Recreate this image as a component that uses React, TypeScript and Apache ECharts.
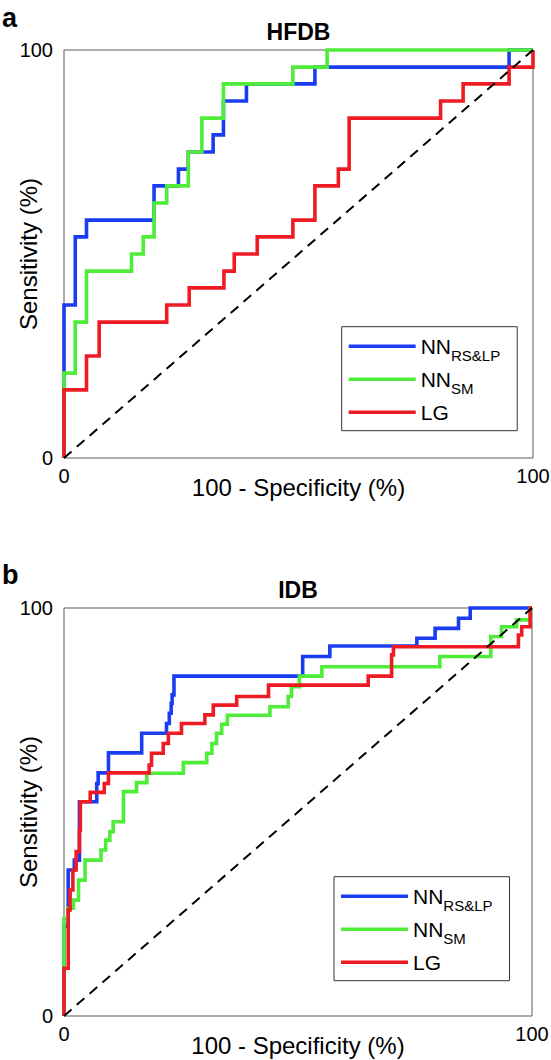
import React, { useEffect, useRef } from 'react';
import * as echarts from 'echarts';

// ---------- DATA ----------
const seriesNames = ['NN_RS&LP', 'NN_SM', 'LG'];
const axisTickValues = [0, 100];

// Panel a (HFDB): [100 - specificity %, sensitivity %] vertices of the ROC steps
const hfdbNNRSLP: number[][] = [
  [0, 0], [0, 37.5], [2.4, 37.5], [2.4, 54.2], [4.8, 54.2], [4.8, 58.3], [19.2, 58.3], [19.2, 66.7],
  [24.4, 66.7], [24.4, 70.8], [26.5, 70.8], [26.5, 75.0], [31.8, 75.0], [31.8, 79.2], [34.0, 79.2],
  [34.0, 87.5], [38.9, 87.5], [38.9, 91.7], [53.5, 91.7], [53.5, 95.8], [94.9, 95.8], [94.9, 100], [100, 100],
];
const hfdbNNSM: number[][] = [
  [0, 0], [0, 20.8], [2.4, 20.8], [2.4, 33.3], [4.8, 33.3], [4.8, 45.8], [14.4, 45.8], [14.4, 50.0],
  [16.9, 50.0], [16.9, 54.2], [19.2, 54.2], [19.2, 62.5], [21.9, 62.5], [21.9, 66.7], [26.5, 66.7],
  [26.5, 75.0], [29.4, 75.0], [29.4, 83.3], [34.0, 83.3], [34.0, 91.7], [48.8, 91.7], [48.8, 95.8],
  [56.1, 95.8], [56.1, 100], [100, 100],
];
const hfdbLG: number[][] = [
  [0, 0], [0, 16.7], [4.8, 16.7], [4.8, 25.0], [7.5, 25.0], [7.5, 33.3], [21.9, 33.3], [21.9, 37.5],
  [26.7, 37.5], [26.7, 41.7], [34.1, 41.7], [34.1, 45.8], [36.3, 45.8], [36.3, 50.0], [41.2, 50.0],
  [41.2, 54.2], [48.8, 54.2], [48.8, 58.3], [53.5, 58.3], [53.5, 66.7], [58.5, 66.7], [58.5, 70.8],
  [60.8, 70.8], [60.8, 83.3], [80.3, 83.3], [80.3, 87.5], [85.1, 87.5], [85.1, 91.7], [94.9, 91.7],
  [94.9, 95.8], [100, 95.8], [100, 100],
];

// Panel b (IDB)
const idbNNRSLP: number[][] = [
  [0, 0], [0, 22], [0.9, 22], [0.9, 35.8], [2.2, 35.8], [2.2, 38.2], [3.3, 38.2], [3.3, 52.5],
  [7.0, 52.5], [7.0, 57.0], [7.3, 57.0], [7.3, 59.6], [9.5, 59.6], [9.5, 64.5], [16.6, 64.5],
  [16.6, 69.3], [21.9, 69.3], [21.9, 71.7], [22.5, 71.7], [22.5, 74.2], [22.9, 74.2], [22.9, 76.6],
  [23.1, 76.6], [23.1, 78.7], [23.5, 78.7], [23.5, 83.3], [51.0, 83.3], [51.0, 88.1], [56.8, 88.1],
  [56.8, 90.7], [75.4, 90.7], [75.4, 92.6], [79.3, 92.6], [79.3, 95.0], [84.3, 95.0], [84.3, 97.5],
  [86.8, 97.5], [86.8, 100], [100, 100],
];
const idbNNSM: number[][] = [
  [0, 0], [0, 23.9], [0.8, 23.9], [0.8, 26.4], [2.0, 26.4], [2.0, 28.4], [3.1, 28.4], [3.1, 33.3],
  [4.5, 33.3], [4.5, 38.2], [7.9, 38.2], [7.9, 40.7], [8.9, 40.7], [8.9, 43.1], [9.8, 43.1],
  [9.8, 45.2], [10.5, 45.2], [10.5, 47.6], [12.7, 47.6], [12.7, 55.0], [15.5, 55.0], [15.5, 57.2],
  [17.7, 57.2], [17.7, 59.5], [25.5, 59.5], [25.5, 62.1], [30.5, 62.1], [30.5, 64.4], [31.6, 64.4],
  [31.6, 66.8], [32.6, 66.8], [32.6, 69.3], [33.7, 69.3], [33.7, 71.5], [34.9, 71.5], [34.9, 73.7],
  [44.0, 73.7], [44.0, 75.8], [47.9, 75.8], [47.9, 78.3], [48.6, 78.3], [48.6, 80.7], [50.3, 80.7],
  [50.3, 83.3], [55.1, 83.3], [55.1, 85.6], [80.3, 85.6], [80.3, 88.1], [91.2, 88.1], [91.2, 93.0],
  [93.5, 93.0], [93.5, 95.4], [96.7, 95.4], [96.7, 97.1], [99.6, 97.1], [99.6, 100], [100, 100],
];
const idbLG: number[][] = [
  [0, 0], [0, 11.7], [0.9, 11.7], [0.9, 26.0], [1.3, 26.0], [1.3, 30.9], [1.9, 30.9], [1.9, 35.8],
  [2.6, 35.8], [2.6, 40.3], [3.3, 40.3], [3.3, 45.6], [3.5, 45.6], [3.5, 52.5], [5.6, 52.5],
  [5.6, 54.8], [8.6, 54.8], [8.6, 57.0], [9.5, 57.0], [9.5, 59.6], [18.2, 59.6], [18.2, 61.5],
  [18.7, 61.5], [18.7, 64.4], [21.2, 64.4], [21.2, 66.8], [22.3, 66.8], [22.3, 69.3], [25.1, 69.3],
  [25.1, 71.7], [30.1, 71.7], [30.1, 73.8], [31.9, 73.8], [31.9, 76.2], [36.9, 76.2], [36.9, 78.3],
  [43.7, 78.3], [43.7, 81.1], [65.0, 81.1], [65.0, 83.3], [70.0, 83.3], [70.0, 88.5], [70.4, 88.5],
  [70.4, 90.5], [97.1, 90.5], [97.1, 93.4], [97.8, 93.4], [97.8, 95.4], [99.6, 95.4], [99.6, 100], [100, 100],
];
const chanceLine: number[][] = [[0, 0], [100, 100]];

// ---------- STYLE ----------
const FONT = '"Liberation Sans", Arial, Helvetica, sans-serif';
const COLORS = ['#1a3df2', '#4fec3a', '#ee1b24'];
const BORDER = '#5a5a5a';

const legendLabel = (name: string) => {
  const parts = name.split('_');
  return parts.length > 1 ? `{n|${parts[0]}}{s|${parts[1]}}` : `{n|${parts[0]}}`;
};

function buildOption() {
  const grids = [
    { left: 64, top: 50, width: 469, height: 408 },
    { left: 64, top: 608, width: 468, height: 408 },
  ];
  const panelData = [
    [hfdbNNRSLP, hfdbNNSM, hfdbLG],
    [idbNNRSLP, idbNNSM, idbLG],
  ];
  const xAxis = grids.map((_, i) => ({
    gridIndex: i,
    type: 'value',
    min: axisTickValues[0],
    max: axisTickValues[axisTickValues.length - 1],
    interval: 100,
    name: '100 - Specificity (%)',
    nameLocation: 'middle',
    nameGap: 17,
    nameMoveOverlap: false,
    nameTextStyle: { fontSize: 24, color: '#000', fontFamily: FONT },
    axisLine: { show: false },
    axisTick: { show: false },
    splitLine: { show: false },
    axisLabel: { fontSize: 20, color: '#000', margin: 8, fontFamily: FONT },
  }));
  const yAxis = grids.map((_, i) => ({
    gridIndex: i,
    type: 'value',
    min: axisTickValues[0],
    max: axisTickValues[axisTickValues.length - 1],
    interval: 100,
    name: 'Sensitivity (%)',
    nameLocation: 'middle',
    nameGap: 24,
    nameMoveOverlap: false,
    nameTextStyle: { fontSize: 24, color: '#000', fontFamily: FONT },
    axisLine: { show: false },
    axisTick: { show: false },
    splitLine: { show: false },
    axisLabel: { fontSize: 20, color: '#000', margin: 11, fontFamily: FONT },
  }));
  const series: any[] = [];
  panelData.forEach((sets, gi) => {
    sets.forEach((d, si) => {
      series.push({
        type: 'line',
        name: seriesNames[si],
        xAxisIndex: gi,
        yAxisIndex: gi,
        data: d,
        symbol: 'none',
        clip: false,
        color: COLORS[si],
        lineStyle: { width: 3.6, color: COLORS[si], cap: 'butt', join: 'miter' },
        z: 2 + si,
        silent: true,
      });
    });
    series.push({
      type: 'line',
      name: 'chance',
      xAxisIndex: gi,
      yAxisIndex: gi,
      data: chanceLine,
      symbol: 'none',
      clip: false,
      lineStyle: { width: 2, color: '#000', type: [10, 7] },
      z: 6,
      silent: true,
    });
  });
  const legendBase = {
    data: seriesNames,
    orient: 'vertical',
    icon: 'rect',
    itemWidth: 67,
    itemHeight: 3.5,
    itemGap: 0,
    padding: [3, 17, 2, 7],
    borderColor: '#333',
    borderWidth: 1,
    backgroundColor: '#fff',
    selectedMode: false,
    formatter: legendLabel,
    textStyle: {
      fontFamily: FONT,
      fontSize: 21,
      lineHeight: 33,
      color: '#000',
      rich: {
        n: { fontSize: 21, lineHeight: 33, verticalAlign: 'middle', fontFamily: FONT, color: '#000' },
        s: { fontSize: 15, lineHeight: 15, verticalAlign: 'bottom', fontFamily: FONT, color: '#000' },
      },
    },
  };
  const titleStyle = (size: number) => ({ fontSize: size, fontWeight: 'bold', color: '#000', fontFamily: FONT });
  return {
    animation: false,
    backgroundColor: '#fff',
    title: [
      { text: 'a', left: 2, top: 4, padding: 0, textStyle: titleStyle(27) },
      { text: 'HFDB', left: 298.5, top: 20.5, textAlign: 'center', padding: 0, textStyle: titleStyle(23) },
      { text: 'b', left: 2, top: 561, padding: 0, textStyle: titleStyle(27) },
      { text: 'IDB', left: 298, top: 578.5, textAlign: 'center', padding: 0, textStyle: titleStyle(23) },
    ],
    grid: grids.map((g) => ({
      ...g,
      show: true,
      borderColor: BORDER,
      borderWidth: 1,
      backgroundColor: 'transparent',
      containLabel: false,
      outerBoundsMode: 'none',
    })),
    xAxis,
    yAxis,
    legend: [
      { ...legendBase, left: 341.7, top: 326.7 },
      { ...legendBase, left: 334, top: 876.7 },
    ],
    series,
  };
}

export default function App() {
  const ref = useRef<HTMLDivElement>(null);
  useEffect(() => {
    if (!ref.current) return;
    const chart = echarts.init(ref.current, null, { renderer: 'svg' });
    chart.setOption(buildOption() as any);
    return () => chart.dispose();
  }, []);
  return (
    <div
      ref={ref}
      style={{ position: 'absolute', left: 0, top: 0, width: 551, height: 1060 }}
    />
  );
}
